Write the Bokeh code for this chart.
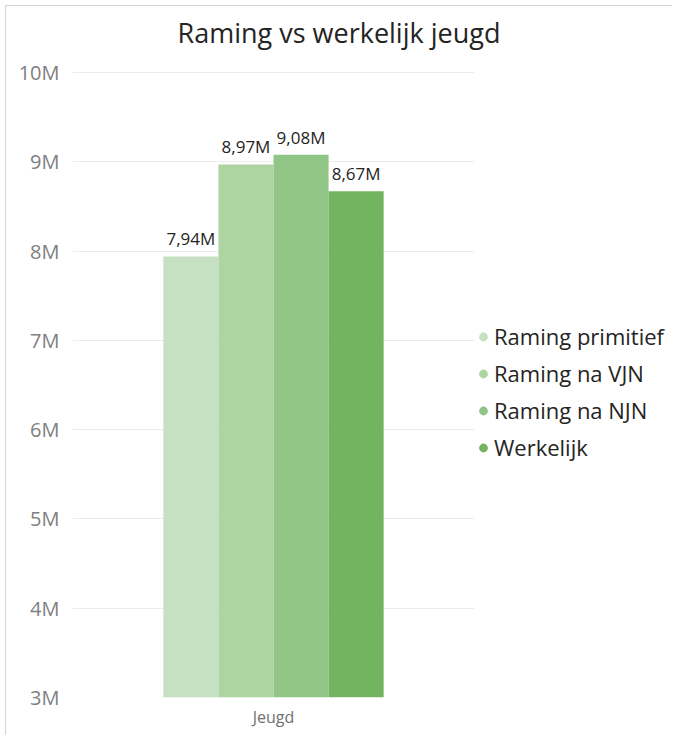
from bokeh.plotting import figure
from bokeh.models import (ColumnDataSource, Range1d, FixedTicker, Legend, LegendItem)
from bokeh.transform import dodge
from bokeh.core.properties import value
from bokeh.embed import file_html
from bokeh.resources import INLINE

# ---- data ----
category = ["Jeugd"]
series = ["Raming primitief", "Raming na VJN", "Raming na NJN", "Werkelijk"]
values = [7.94e6, 8.97e6, 9.08e6, 8.67e6]
value_labels = ["7,94M", "8,97M", "9,08M", "8,67M"]
colors = ["#c5e1c2", "#add5a1", "#91c585", "#73b460"]
y_ticks = [3e6, 4e6, 5e6, 6e6, 7e6, 8e6, 9e6, 10e6]
y_tick_labels = ["3M", "4M", "5M", "6M", "7M", "8M", "9M", "10M"]
title_text = "Raming vs werkelijk jeugd"

FONT = "Open Sans"
cat_pos = list(range(len(category)))

p = figure(x_range=Range1d(-0.5, 0.995), y_range=Range1d(3e6, 10.224e6),
           width=667, height=730, output_backend="svg", toolbar_location=None,
           min_border_left=66, min_border_right=0, min_border_top=46, min_border_bottom=39)
p.margin = (5, 0, 0, 5)
p.styles = {"border-top": "1px solid #d4d4d4", "border-left": "1px solid #d4d4d4"}

p.title.text = title_text
p.title.align = "left"
p.title.offset = 105
p.title.standoff = 4
p.title.text_font = FONT
p.title.text_font_size = "27px"
p.title.text_font_style = "normal"
p.title.text_color = "#252423"

p.outline_line_color = None
p.background_fill_color = "white"
p.border_fill_color = "white"

bar_w = 0.137
offsets = [-1.5 * bar_w, -0.5 * bar_w, 0.5 * bar_w, 1.5 * bar_w]

legend_items = []
for name, v, lab, c, off in zip(series, values, value_labels, colors, offsets):
    src = ColumnDataSource(dict(x=cat_pos, top=[v], label=[lab]))
    p.vbar(x=dodge("x", off), top="top", bottom=0, width=bar_w,
           source=src, fill_color=c, line_color=None)
    p.text(x=dodge("x", off), y="top", text="label", source=src,
           text_align="center", text_baseline="bottom", y_offset=-6,
           text_font=value(FONT), text_font_size="17px", text_color="#252423")
    # legend marker renderer (hidden on the plot, used only for its legend glyph)
    r = p.scatter(x=dodge("x", off), y="top", source=src, marker="circle",
                  fill_color=c, line_color=None, visible=False)
    legend_items.append(LegendItem(label=name, renderers=[r]))

legend = Legend(items=legend_items, location=(400, 235), border_line_color=None,
                background_fill_alpha=0, label_text_font=FONT,
                label_text_font_size="22px", label_text_color="#252423",
                glyph_width=22, glyph_height=25, label_height=25, spacing=7,
                label_standoff=0, padding=0, margin=0,
                inactive_fill_alpha=0)
p.add_layout(legend)

p.yaxis.ticker = FixedTicker(ticks=y_ticks)
p.yaxis.major_label_overrides = {t: l for t, l in zip(y_ticks, y_tick_labels)}
p.yaxis.axis_line_color = None
p.yaxis.major_tick_line_color = None
p.yaxis.minor_tick_line_color = None
p.yaxis.major_label_text_font = FONT
p.yaxis.major_label_text_font_size = "20px"
p.yaxis.major_label_text_color = "#808080"
p.yaxis.major_label_standoff = 7

p.xaxis.ticker = FixedTicker(ticks=cat_pos)
p.xaxis.major_label_overrides = {i: c for i, c in zip(cat_pos, category)}
p.xaxis.axis_line_color = None
p.xaxis.major_tick_line_color = None
p.xaxis.minor_tick_line_color = None
p.xaxis.major_label_text_font = FONT
p.xaxis.major_label_text_font_size = "16px"
p.xaxis.major_label_text_color = "#707070"
p.xaxis.major_label_standoff = 2

p.xgrid.grid_line_color = None
p.ygrid.grid_line_color = "#ebebeb"
p.ygrid.grid_line_width = 1
p.ygrid.cross_bounds = (-0.5, 0.5)

open("out.html", "w").write(file_html(p, INLINE))
